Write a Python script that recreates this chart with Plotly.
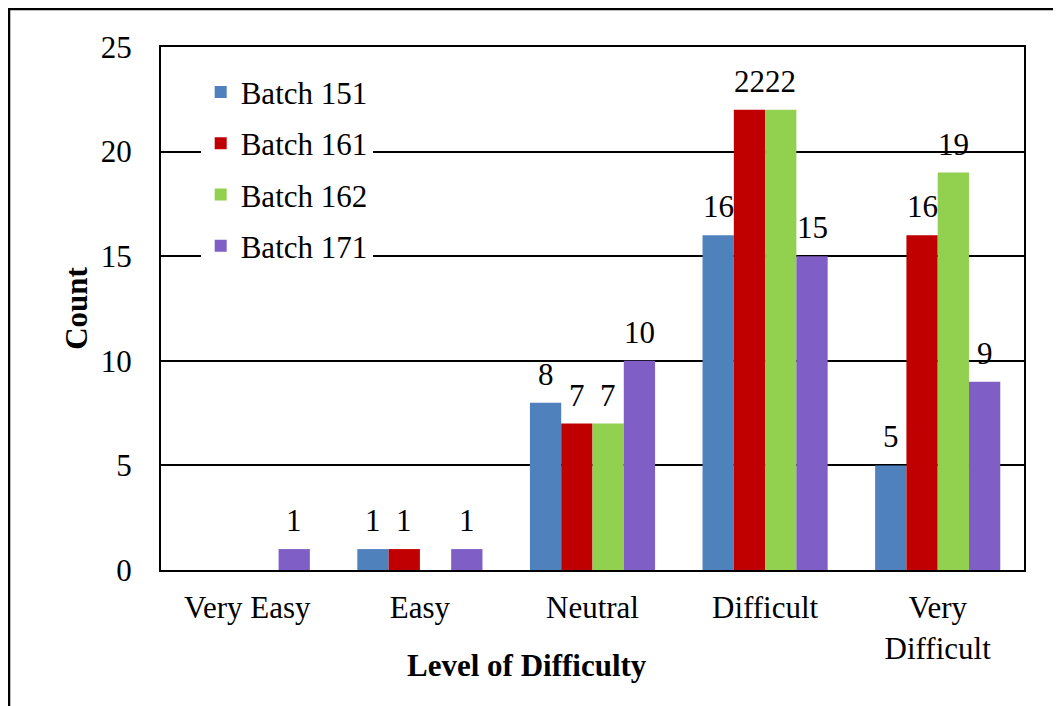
import plotly.graph_objects as go

# chart data
levels = ['Very Easy', 'Easy', 'Neutral', 'Difficult', 'Very<br>Difficult']
batch_151 = [0, 1, 8, 16, 5]
batch_161 = [0, 1, 7, 22, 16]
batch_162 = [0, 0, 7, 22, 19]
batch_171 = [1, 1, 10, 15, 9]

series = [
    ('Batch 151', batch_151, '#4F81BD'),
    ('Batch 161', batch_161, '#C00000'),
    ('Batch 162', batch_162, '#92D050'),
    ('Batch 171', batch_171, '#7F5FC6'),
]

FONT = 'Liberation Serif, Times New Roman, serif'
FS = 31
BARGAP = 0.275

fig = go.Figure()
labels = []
bw = (1 - BARGAP) / len(series)   # width of one bar in category units
for i, (name, vals, col) in enumerate(series):
    fig.add_trace(go.Bar(
        name=name,
        x=levels,
        y=vals,
        marker=dict(color=col, line=dict(width=0)),
        legendgroup='g%d' % i,
    ))
    # data labels sit a bit higher than plotly's 'outside' text
    for j, v in enumerate(vals):
        if v:
            labels.append(dict(x=j + (i - 1.5) * bw, y=v, text=str(v),
                               xref='x', yref='y', yanchor='bottom',
                               yshift=9, showarrow=False,
                               font=dict(size=FS, family=FONT, color='black')))

# page has an 8px body margin, so the figure is sized to fit
fig.update_layout(
    width=1053, height=698,
    margin=dict(l=153, r=37, t=39, b=136),
    paper_bgcolor='white', plot_bgcolor='white',
    font=dict(family=FONT, size=FS, color='black'),
    barmode='group',
    bargap=BARGAP,
    bargroupgap=0,
    showlegend=True,
    legend=dict(x=0.046, y=0.965, xanchor='left', yanchor='top',
                bgcolor='white', font=dict(size=FS, family=FONT),
                tracegroupgap=8, itemwidth=30),
    xaxis=dict(showline=True, linecolor='black', linewidth=2, mirror=True,
               ticks='', ticklabelstandoff=9),
    yaxis=dict(range=[0, 25], dtick=5, showline=True, linecolor='black',
               linewidth=2, mirror=True, showgrid=True, gridcolor='black',
               gridwidth=1.5, zeroline=False, ticks='', ticklabelstandoff=21,
               title=dict(text='<b>Count</b>', font=dict(size=FS), standoff=4)),
    annotations=labels + [dict(text='<b>Level of Difficulty</b>', xref='paper',
                               yref='paper', x=0.424, y=-0.182, xanchor='center',
                               yanchor='middle', showarrow=False,
                               font=dict(size=FS, family=FONT))],
    shapes=[dict(type='rect', xref='paper', yref='paper', x0=-0.1761, y0=-0.5,
                 x1=1.2, y1=1.0727, line=dict(color='black', width=2.5),
                 layer='below')],
)

fig.write_html('out.html')
